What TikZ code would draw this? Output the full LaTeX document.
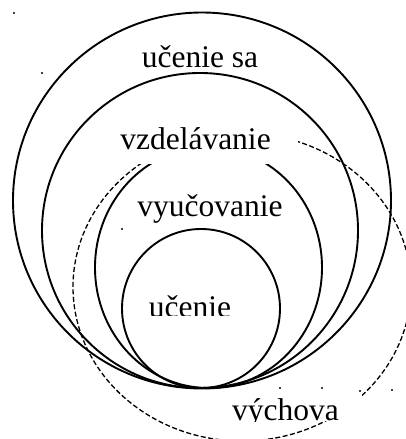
\documentclass[tikz,border=0pt]{standalone}
\usepackage{fontspec}
\setmainfont{Liberation Serif}
\begin{document}
\begin{tikzpicture}[x=1pt,y=-1pt,
  ring/.style={draw=black, line width=1.9pt},
  dashring/.style={draw=black, line width=1.3pt, dash pattern=on 5pt off 2.5pt},
  lbl/.style={font=\fontsize{31.5}{36}\selectfont, anchor=base, inner sep=0pt, text=black},
  cover/.style={fill=white, draw=none, inner sep=0pt},
  bbdot/.style={fill=black}
]
\useasboundingbox[fill=white] (0,0) rectangle (406,439);

% nested sets, all touching at the bottom
\draw[ring] (202,200.5) ellipse [x radius=189pt, y radius=188pt];
\draw[ring] (200,230.5) ellipse [x radius=158pt, y radius=157.5pt];
\draw[ring] (208.5,267.5) ellipse [x radius=113.5pt, y radius=120.5pt];
\draw[ring] (201,308.5) ellipse [x radius=79pt, y radius=79.5pt];

% overlapping dashed set
\draw[dashring] (242,287) ellipse [x radius=169pt, y radius=154pt];

% small corner marks
\foreach \p in {(14,13),(42,73),(95,147),(122,229),(280,388),(322,388),(360,391),(392,390)}
  \fill[bbdot] \p circle [radius=1.1pt];

% white label backgrounds
\node[cover, minimum width=205pt, minimum height=44pt] (vzdbg) at (195.5,142) {};
\node[cover, minimum width=147pt, minimum height=27pt] (vychbg) at (288.5,407.5) {};

% labels
\node[lbl] (ucsa) at (200,67) {učenie sa};
\node[lbl] (vzd) at (195.5,149) {vzdelávanie};
\node[lbl] (vyuc) at (210,216) {vyučovanie};
\begin{scope}
  \clip (100,280) rectangle (290,315);
  \node[lbl] (uc) at (190,317) {učenie};
\end{scope}
\begin{scope}
  \clip (200,380) rectangle (400,421);
  \node[lbl] (vych) at (285.5,420) {výchova};
\end{scope}
\end{tikzpicture}
\end{document}
